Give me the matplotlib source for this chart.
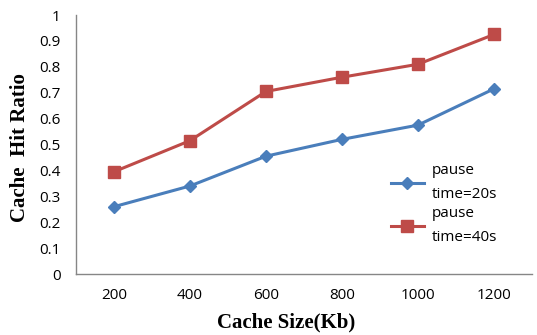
import matplotlib
matplotlib.use("Agg")
import matplotlib.pyplot as plt
import numpy as np

cache_sizes = ["200", "400", "600", "800", "1000", "1200"]
hit_ratio_20s = [0.26, 0.34, 0.455, 0.52, 0.575, 0.715]
hit_ratio_40s = [0.395, 0.515, 0.705, 0.76, 0.81, 0.925]
y_ticks = [0, 0.1, 0.2, 0.3, 0.4, 0.5, 0.6, 0.7, 0.8, 0.9, 1]
y_tick_labels = ["0", "0.1", "0.2", "0.3", "0.4", "0.5", "0.6", "0.7", "0.8", "0.9", "1"]

fig = plt.figure(figsize=(5.37, 3.35), dpi=100)
ax = fig.add_axes([0.1415, 0.182, 0.849, 0.773])

x = np.arange(len(cache_sizes))
ax.plot(x, hit_ratio_20s, color="#4a7ebb", lw=2.2, marker="D", ms=6.5,
        label="pause\ntime=20s")
ax.plot(x, hit_ratio_40s, color="#be4b48", lw=2.2, marker="s", ms=8.5,
        label="pause\ntime=40s")

ax.set_xlim(-0.5, len(cache_sizes) - 0.5)
ax.set_ylim(0, 1)
ax.set_xticks(x)
ax.set_xticklabels(cache_sizes)
ax.set_yticks(y_ticks)
ax.set_yticklabels(y_tick_labels)
ax.tick_params(length=0, labelsize=11, colors="#000000", pad=10)
ax.tick_params(axis="y", pad=11)
for lbl in ax.get_xticklabels() + ax.get_yticklabels():
    lbl.set_family("Open Sans")

for side in ("top", "right"):
    ax.spines[side].set_visible(False)
for side in ("left", "bottom"):
    ax.spines[side].set_color("#868686")
    ax.spines[side].set_linewidth(1.0)

fig.text(0.533, 0.036, "Cache Size(Kb)", ha="center", va="center",
         family="Liberation Serif", weight="bold", fontsize=15)
fig.text(0.037, 0.561, "Cache  Hit Ratio", ha="center", va="center",
         rotation=90, family="Liberation Serif", weight="bold", fontsize=15)

leg = ax.legend(loc="upper left", bbox_to_anchor=(0.66, 0.48), frameon=False,
                handlelength=2.2, labelspacing=0.3, handletextpad=0.5,
                prop={"family": "Open Sans", "size": 11})
for t in leg.get_texts():
    t.set_linespacing(1.75)

fig.savefig("out.png", dpi=100)
